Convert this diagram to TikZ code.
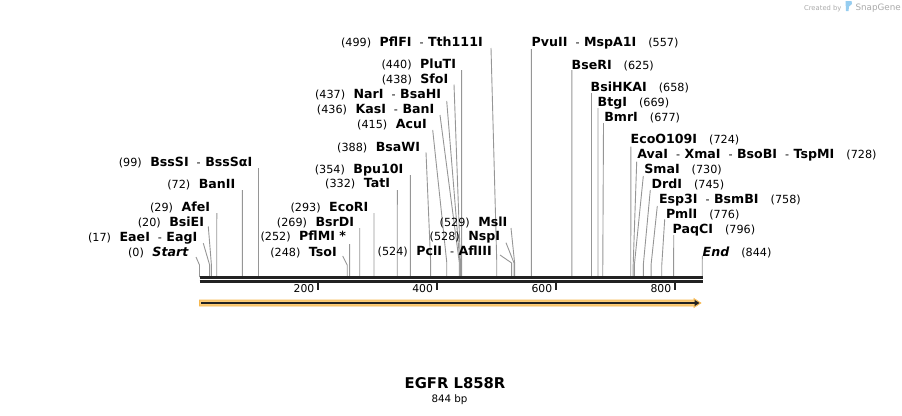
\documentclass[tikz,border=0pt]{standalone}
\usepackage{fontspec}
\setmainfont{DejaVu Sans}
\usetikzlibrary{arrows.meta}
\definecolor{cutgray}{RGB}{150,150,150}
\definecolor{bardark}{RGB}{34,34,34}
\definecolor{arrfill}{RGB}{252,204,120}
\definecolor{arredge}{RGB}{246,184,80}
\definecolor{logogray}{RGB}{170,170,170}
\definecolor{logoblue}{RGB}{150,205,240}
\newcommand\nmb[1]{{\fontsize{12.6}{13}\selectfont\bfseries #1}}
\newcommand\nmn[1]{{\fontsize{11.2}{13}\selectfont #1}}
\newcommand\gsep{\hspace{8.5pt}}
\newcommand\rsep{\hspace{12pt}}
\newcommand\dsep{\hspace{8pt}{\fontsize{11.2}{13}\selectfont -}\hspace{4.5pt}}
\tikzset{
  lbl/.style={inner sep=0pt, outer sep=0pt},
  cutline/.style={draw=cutgray, line width=0.9pt},
  barline/.style={draw=bardark, line width=2.7pt},
  tickline/.style={draw=bardark, line width=1.8pt},
}
% #1 id, #2 text, #3 x, #4 baseline y, #5 top point, #6 kink y, #7 bp
\newcommand\siteL[7]{%
  \node[lbl, anchor=base east] (#1) at (#3,#4) {#2};
  \coordinate (#1t) at (#5);
  \coordinate (#1k) at ({199.5+0.5957*#7},#6);
  \coordinate (#1b) at ({199.5+0.5957*#7},277);
  \draw[cutline] (#1t) -- (#1k) -- (#1b);
}
\newcommand\siteR[7]{%
  \node[lbl, anchor=base west] (#1) at (#3,#4) {#2};
  \coordinate (#1t) at (#5);
  \coordinate (#1k) at ({199.5+0.5957*#7},#6);
  \coordinate (#1b) at ({199.5+0.5957*#7},277);
  \draw[cutline] (#1t) -- (#1k) -- (#1b);
}
\begin{document}
\begin{tikzpicture}[x=1pt,y=-1pt]
\useasboundingbox (0,0) rectangle (902,415);
% ---- left group
\siteL{start}{\nmn{(0)}\gsep\nmb{\itshape Start}}{188.3}{256}{196,257}{265}{0}
\siteL{eae}{\nmn{(17)}\gsep\nmb{EaeI}\dsep\nmb{EagI}}{197.3}{241.5}{203.3,243.3}{265}{17}
\siteL{bsie}{\nmn{(20)}\gsep\nmb{BsiEI}}{204}{226.3}{208.3,226.5}{265}{20}
\siteL{afe}{\nmn{(29)}\gsep\nmb{AfeI}}{210}{211.5}{216.8,213}{265}{29}
\siteL{ban2}{\nmn{(72)}\gsep\nmb{BanII}}{235.3}{188.3}{242.4,190}{265}{72}
\siteL{bsss}{\nmn{(99)}\gsep\nmb{BssSI}\dsep\nmb{BssSαI}}{252.3}{166}{258.5,168}{265}{99}
% ---- middle group
\siteL{tso}{\nmn{(248)}\gsep\nmb{TsoI}}{336.7}{256}{342.7,256}{265}{248}
\siteL{pflm}{\nmn{(252)}\gsep\nmb{PflMI *}}{346}{240.7}{349.6,244}{265}{252}
\siteL{bsrd}{\nmn{(269)}\gsep\nmb{BsrDI}}{354}{226}{359.7,228}{265}{269}
\siteL{ecor}{\nmn{(293)}\gsep\nmb{EcoRI}}{368.3}{211.7}{374,213}{265}{293}
\siteL{tat}{\nmn{(332)}\gsep\nmb{TatI}}{390}{187.7}{397.3,190}{265}{332}
\siteL{bpu}{\nmn{(354)}\gsep\nmb{Bpu10I}}{403.3}{173.3}{410.4,175}{265}{354}
\siteL{bsaw}{\nmn{(388)}\gsep\nmb{BsaWI}}{420}{151}{426,152.3}{262}{388}
\siteL{acu}{\nmn{(415)}\gsep\nmb{AcuI}}{426.7}{128.3}{432.7,130}{262}{415}
\siteL{kas}{\nmn{(436)}\gsep\nmb{KasI}\dsep\nmb{BanI}}{434.3}{113.3}{440,115}{262}{436}
\siteL{nar}{\nmn{(437)}\gsep\nmb{NarI}\dsep\nmb{BsaHI}}{441}{98.3}{446.7,101}{262}{437}
\siteL{sfo}{\nmn{(438)}\gsep\nmb{SfoI}}{448.3}{83.3}{454,84.5}{262}{438}
\siteL{plut}{\nmn{(440)}\gsep\nmb{PluTI}}{456}{68.3}{461.6,70}{262}{440}
\siteL{pflf}{\nmn{(499)}\gsep\nmb{PflFI}\dsep\nmb{Tth111I}}{482.7}{46}{491,48}{262}{499}
\siteL{pcl}{\nmn{(524)}\gsep\nmb{PclI}\dsep\nmb{AflIII}}{491.7}{255.7}{500,255}{263}{524}
\siteL{nsp}{\nmn{(528)}\gsep\nmb{NspI}}{500}{240.7}{506,242.7}{263}{528}
\siteL{msl}{\nmn{(529)}\gsep\nmb{MslI}}{507.3}{226.7}{511,228}{263}{529}
% ---- right group
\siteR{pvu}{\nmb{PvuII}\dsep\nmb{MspA1I}\rsep\nmn{(557)}}{531.7}{46}{531.3,49}{265}{557}
\siteR{bser}{\nmb{BseRI}\rsep\nmn{(625)}}{571.7}{69}{571.8,70}{265}{625}
\siteR{bsih}{\nmb{BsiHKAI}\rsep\nmn{(658)}}{590.7}{91.7}{591.5,93}{265}{658}
\siteR{btg}{\nmb{BtgI}\rsep\nmn{(669)}}{597.7}{106.7}{598,108}{265}{669}
\siteR{bmr}{\nmb{BmrI}\rsep\nmn{(677)}}{604.3}{121.7}{603.5,123}{265}{677}
\siteR{eco}{\nmb{EcoO109I}\rsep\nmn{(724)}}{630.7}{143.3}{630.8,146.7}{265}{724}
\siteR{ava}{\nmb{AvaI}\dsep\nmb{XmaI}\dsep\nmb{BsoBI}\dsep\nmb{TspMI}\rsep\nmn{(728)}}{637.3}{158.3}{636.7,161.7}{265}{728}
\siteR{sma}{\nmb{SmaI}\rsep\nmn{(730)}}{644.3}{173.3}{643.3,176}{265}{730}
\siteR{drd}{\nmb{DrdI}\rsep\nmn{(745)}}{651.7}{188.3}{650.3,190}{265}{745}
\siteR{esp}{\nmb{Esp3I}\dsep\nmb{BsmBI}\rsep\nmn{(758)}}{659}{203.3}{657.3,206}{265}{758}
\siteR{pml}{\nmb{PmlI}\rsep\nmn{(776)}}{666}{218.3}{664.7,219.3}{265}{776}
\siteR{paq}{\nmb{PaqCI}\rsep\nmn{(796)}}{672.7}{233.3}{673.7,235}{265}{796}
\siteR{end}{\nmb{\itshape End}\rsep\nmn{(844)}}{702.7}{256}{702.3,256}{265}{844}
% ---- sequence bar
\coordinate (barL1) at (199.5,277.3);
\coordinate (barR1) at (702.6,277.3);
\coordinate (barL2) at (199.5,281.5);
\coordinate (barR2) at (702.6,281.5);
\draw[barline] (barL1) -- (barR1);
\draw[barline] (barL2) -- (barR2);
% ---- ticks
\foreach \t/\x in {200/318.3,400/436.9,600/556.2,800/675.2}{
  \coordinate (tk\t a) at (\x,282);
  \coordinate (tk\t b) at (\x,289.5);
  \draw[tickline] (tk\t a) -- (tk\t b);
  \node[lbl, anchor=base east] (tl\t) at (\x-4,292.7) {{\fontsize{10.8}{12}\selectfont\t}};
}
% ---- feature arrow
\fill[arrfill, draw=arredge, line width=0.6pt]
  (199.5,300) -- (694,300) -- (694,298.5) -- (701,303) -- (694,307.5) -- (694,306) -- (199.5,306) -- cycle;
\coordinate (arrA) at (201,303);
\coordinate (arrB) at (699.5,303);
\draw[draw=bardark, line width=1.6pt, -{Triangle[length=5pt,width=6pt]}] (arrA) -- (arrB);
% ---- title
\node[lbl, anchor=base] (title) at (455,388.3) {\fontsize{14.8}{16}\selectfont\bfseries EGFR L858R};
\node[lbl, anchor=base] (len) at (449.5,402.7) {\fontsize{10.3}{12}\selectfont 844 bp};
% ---- logo
\node[lbl, anchor=base east, text=logogray] (cby) at (841.5,10) {\fontsize{6.8}{8}\selectfont Created by};
\fill[logoblue] (845.5,1) -- (851.5,1) -- (852,4) -- (849,6.5) -- (848.5,11) -- (846,11) -- cycle;
\node[lbl, anchor=base west, text=logogray] (snap) at (855.5,10.5) {\fontsize{8.8}{10}\selectfont SnapGene};
\end{tikzpicture}
\end{document}
